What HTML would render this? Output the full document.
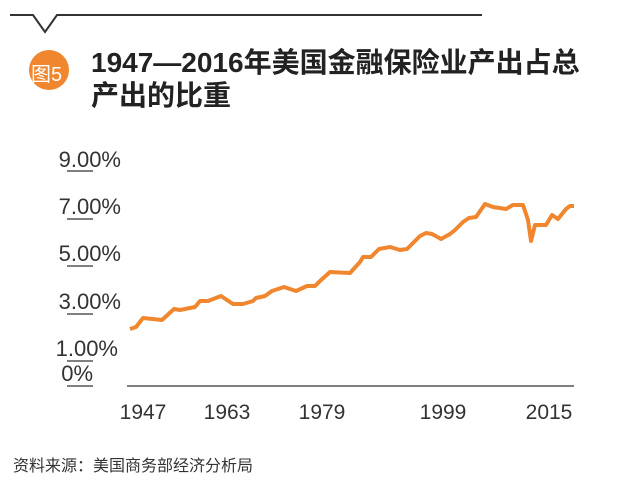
<!DOCTYPE html>
<html><head><meta charset="utf-8"><style>
body{margin:0;background:#fff;width:622px;height:485px;overflow:hidden;position:relative;font-family:"Liberation Sans","Noto Sans CJK SC",sans-serif;}
.t{position:absolute;white-space:nowrap;}
</style></head><body>
<svg width="622" height="485" style="position:absolute;left:0;top:0">
<polyline points="10,15 33,15 45,32 57,15 482,15" fill="none" stroke="#333" stroke-width="2"/>
<circle cx="49" cy="70" r="20" fill="#f0862e"/>
<g stroke="#333" stroke-width="1.2">
<line x1="67" y1="171" x2="93" y2="171"/><line x1="67" y1="219" x2="93" y2="219"/>
<line x1="67" y1="266" x2="93" y2="266"/><line x1="67" y1="314" x2="93" y2="314"/>
<line x1="67" y1="361" x2="93" y2="361"/><line x1="67" y1="386" x2="93" y2="386"/>
<line x1="127" y1="386" x2="574" y2="386"/>
</g>
<polyline fill="none" stroke="#f0862e" stroke-width="4" stroke-linejoin="round" points="130,329 136,327 143,318 162,320 174,309 180,310 195,307 200,301 208,301 221,296 233,304 243,304 253,301 256,298 265,296 272,291 284,287 296,291 307,286 315,286 320,281 330,272 350,273 360,262 363,257 371,257 379,249 390,247 400,250 407,249 413,243 420,236 426,233 432,234 441,239 450,234 455,230 463,222 469,218 476,217 485,204 493,207 506,209 513,205 518,205 523,205 528,220 531,241 535,225 539,225 546,225 552,215 558,219 566,209 570,206 574,206"/>
<g font-family="Liberation Sans,sans-serif" font-size="22" fill="#333" text-anchor="end">
<text x="121" y="167">9.00%</text><text x="121" y="214">7.00%</text>
<text x="121" y="261">5.00%</text><text x="121" y="309">3.00%</text>
<text x="118" y="356">1.00%</text><text x="93" y="381">0%</text>
</g>
<g font-family="Liberation Sans,sans-serif" font-size="21" fill="#333" text-anchor="middle">
<text x="143" y="419">1947</text><text x="227" y="419">1963</text><text x="322" y="419">1979</text>
<text x="443" y="419">1999</text><text x="549" y="419">2015</text>
</g>
</svg>
<div class="t" style="left:31px;top:58px;font-size:20px;color:#fff;">图5</div>
<div class="t" style="left:91px;top:46px;font-size:28px;font-weight:bold;color:#222;line-height:33px;">1947—2016年美国金融保险业产出占总<br>产出的比重</div>
<div class="t" style="left:13px;top:452px;font-size:16px;color:#333;">资料来源：美国商务部经济分析局</div>
</body></html>
